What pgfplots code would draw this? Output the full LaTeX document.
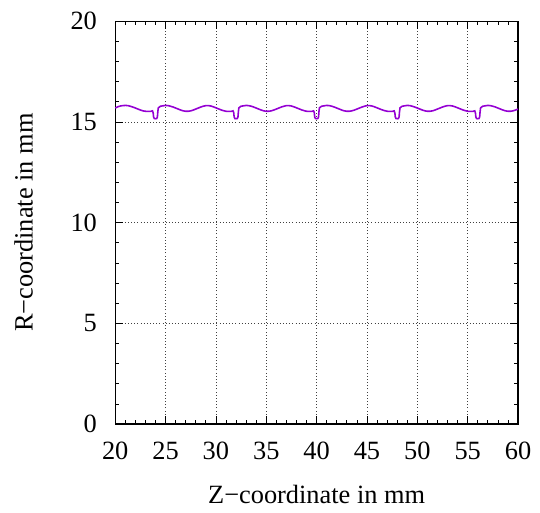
\documentclass[border=0pt]{standalone}
\usepackage{fontspec}
\setmainfont{Liberation Serif}
\usepackage{pgfplots}
\pgfplotsset{compat=1.18}
\usepackage{pgfplotstable}
\definecolor{curve}{HTML}{9400D3}
\pgfplotstableread{
z r
20.00 15.69
20.25 15.75
20.50 15.79
20.75 15.81
21.00 15.82
21.25 15.81
21.50 15.78
21.75 15.74
22.00 15.69
22.25 15.64
22.50 15.59
22.75 15.55
23.00 15.53
23.25 15.52
23.50 15.52
23.70 15.55
23.77 15.45
23.81 15.25
23.88 15.17
24.00 15.16
24.12 15.17
24.19 15.25
24.23 15.50
24.28 15.70
24.50 15.78
24.75 15.80
25.00 15.82
25.25 15.81
25.50 15.78
25.75 15.74
26.00 15.69
26.25 15.64
26.50 15.59
26.75 15.55
27.00 15.53
27.25 15.53
27.50 15.55
27.75 15.59
28.00 15.64
28.25 15.69
28.50 15.74
28.75 15.78
29.00 15.81
29.25 15.81
29.50 15.79
29.75 15.75
30.00 15.70
30.25 15.65
30.50 15.60
30.75 15.56
31.00 15.53
31.25 15.52
31.50 15.52
31.70 15.55
31.77 15.45
31.81 15.25
31.88 15.17
32.00 15.16
32.12 15.17
32.19 15.25
32.23 15.50
32.28 15.70
32.50 15.78
32.75 15.80
33.00 15.82
33.25 15.81
33.50 15.78
33.75 15.74
34.00 15.69
34.25 15.64
34.50 15.59
34.75 15.55
35.00 15.53
35.25 15.53
35.50 15.55
35.75 15.59
36.00 15.64
36.25 15.69
36.50 15.74
36.75 15.78
37.00 15.81
37.25 15.81
37.50 15.79
37.75 15.75
38.00 15.70
38.25 15.65
38.50 15.60
38.75 15.56
39.00 15.53
39.25 15.52
39.50 15.52
39.70 15.55
39.77 15.45
39.81 15.25
39.88 15.17
40.00 15.16
40.12 15.17
40.19 15.25
40.23 15.50
40.28 15.70
40.50 15.78
40.75 15.80
41.00 15.82
41.25 15.81
41.50 15.78
41.75 15.74
42.00 15.69
42.25 15.64
42.50 15.59
42.75 15.55
43.00 15.53
43.25 15.53
43.50 15.55
43.75 15.59
44.00 15.64
44.25 15.69
44.50 15.74
44.75 15.78
45.00 15.81
45.25 15.81
45.50 15.79
45.75 15.75
46.00 15.70
46.25 15.65
46.50 15.60
46.75 15.56
47.00 15.53
47.25 15.52
47.50 15.52
47.70 15.55
47.77 15.45
47.81 15.25
47.88 15.17
48.00 15.16
48.12 15.17
48.19 15.25
48.23 15.50
48.28 15.70
48.50 15.78
48.75 15.80
49.00 15.82
49.25 15.81
49.50 15.78
49.75 15.74
50.00 15.69
50.25 15.64
50.50 15.59
50.75 15.55
51.00 15.53
51.25 15.53
51.50 15.55
51.75 15.59
52.00 15.64
52.25 15.69
52.50 15.74
52.75 15.78
53.00 15.81
53.25 15.81
53.50 15.79
53.75 15.75
54.00 15.70
54.25 15.65
54.50 15.60
54.75 15.56
55.00 15.53
55.25 15.52
55.50 15.52
55.70 15.55
55.77 15.45
55.81 15.25
55.88 15.17
56.00 15.16
56.12 15.17
56.19 15.25
56.23 15.50
56.28 15.70
56.50 15.78
56.75 15.80
57.00 15.82
57.25 15.81
57.50 15.78
57.75 15.74
58.00 15.69
58.25 15.64
58.50 15.59
58.75 15.55
59.00 15.53
59.25 15.53
59.50 15.55
59.75 15.59
60.00 15.64
}\curvedata
\begin{document}
\fontsize{20}{24}\selectfont
\begin{tikzpicture}
\path (-87.4pt,-61.5pt) rectangle (317.6pt,321.7pt);
\begin{axis}[
  at={(0,0)}, anchor=south west,
  scale only axis,
  width=305.6pt, height=305.6pt,
  xmin=20, xmax=60, ymin=0, ymax=20,
  xtick={20,25,30,35,40,45,50,55,60},
  xticklabels={20,25,30,35,40,45,50,55,60},
  ytick={0,5,10,15,20},
  yticklabels={0,5,10,15,20},
  minor x tick num=4, minor y tick num=4,
  tick align=inside,
  major tick length=6pt, minor tick length=3pt,
  every tick/.style={black, line width=0.6pt},
  axis line style={black, line width=1pt},
  grid=major,
  major grid style={black!75, line width=0.6pt, dash pattern=on 0.6pt off 1.8pt},
  tick label style={font=\rmfamily\fontsize{20}{24}\selectfont},
  xticklabel style={yshift=-6.8pt},
  yticklabel style={xshift=-7pt},
  label style={font=\rmfamily\fontsize{20}{24}\selectfont},
  xlabel={Z\textminus coordinate in mm},
  ylabel={R\textminus coordinate in mm},
  xlabel style={at={(axis description cs:0.5,-0.196)}, anchor=base},
  ylabel style={at={(axis description cs:-0.205,0.5)}, anchor=base},
]
\addplot[curve, line width=1.2pt, mark=none] table[x=z,y=r] {\curvedata};
\end{axis}
\end{tikzpicture}
\end{document}
